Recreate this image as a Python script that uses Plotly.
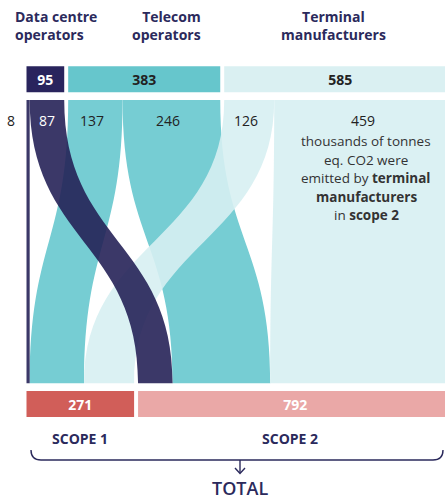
import plotly.graph_objects as go

# ---------------- data ----------------
actor_labels = ["Data centre<br>operators", "Telecom<br>operators", "Terminal<br>manufacturers"]
actor_totals = [95, 383, 585]
scope_labels = ["SCOPE 1", "SCOPE 2"]
scope_totals = [271, 792]
scope1_values = [8, 137, 126]     # per actor, scope 1
scope2_values = [87, 246, 459]    # per actor, scope 2
total_label = "TOTAL"

# ---------------- styles ----------------
NAVY = "#2b2a5c"
actor_bar_colors = ["#29245d", "#66c6cc", "#daf0f2"]
actor_text_colors = ["#ffffff", "#222222", "#222222"]
flow_colors = ["rgba(35,31,85,0.89)", "rgb(118,205,211)", "rgba(215,239,242,0.9)"]
flow_text_colors = ["#ffffff", "#222222", "#222222"]
scope_bar_colors = ["#d15e59", "#eaa8a7"]
FONT = "Open Sans"

W, H = 445, 500
K = 0.397        # px per unit (layout scale)
LEFT = 26.5      # px where value 0 sits
GAP = 10         # units between blocks


def X(px):
    return (px - LEFT) / K


X0, X1 = X(0), X(W)

Y_TOP_BAR = 79.3
Y_BOT_BAR = 404
BAR_W = 26
Y_FLOW_TOP = 100
Y_FLOW_BOT = 383.3
YM = (Y_FLOW_TOP + Y_FLOW_BOT) / 2
LABEL_SHIFT = -3.5 / K   # flow labels sit slightly left of segment centre

# block starts
top_start = []
s = 0
for v in actor_totals:
    top_start.append(s)
    s += v + GAP
bot_start = []
s = 0
for v in scope_totals:
    bot_start.append(s)
    s += v + GAP

scope_values = [scope1_values, scope2_values]

fig = go.Figure()

fig.add_trace(go.Bar(
    orientation="h", y=[Y_TOP_BAR] * 3, x=actor_totals, base=top_start, width=BAR_W,
    marker=dict(color=actor_bar_colors, line=dict(width=0)),
    text=[str(v) for v in actor_totals], textposition="inside", insidetextanchor="middle",
    textangle=0, constraintext="none",
    textfont=dict(family=FONT, size=14, color=actor_text_colors, weight=700),
    hoverinfo="skip", showlegend=False,
))
fig.add_trace(go.Bar(
    orientation="h", y=[Y_BOT_BAR] * 2, x=scope_totals, base=bot_start, width=BAR_W,
    marker=dict(color=scope_bar_colors, line=dict(width=0)),
    text=[str(v) for v in scope_totals], textposition="inside", insidetextanchor="middle",
    textangle=0, constraintext="none",
    textfont=dict(family=FONT, size=14, color="#ffffff", weight=700),
    hoverinfo="skip", showlegend=False,
))

shapes = []
annotations = []

# flows
flows = {}
for j in range(2):
    acc = bot_start[j]
    for i in range(3):
        v = scope_values[j][i]
        a0 = top_start[i] + (0 if j == 0 else scope1_values[i])
        b0 = acc
        flows[(i, j)] = (a0, a0 + v, b0, b0 + v)
        acc += v

for i in [1, 2, 0]:
    for j in range(2):
        a0, a1, b0, b1 = flows[(i, j)]
        path = (f"M {a0},{Y_FLOW_TOP} C {a0},{YM} {b0},{YM} {b0},{Y_FLOW_BOT} "
                f"L {b1},{Y_FLOW_BOT} C {b1},{YM} {a1},{YM} {a1},{Y_FLOW_TOP} Z")
        shapes.append(dict(type="path", path=path, xref="x", yref="y",
                           fillcolor=flow_colors[i], line=dict(width=0), layer="above"))

# flow labels
for i in range(3):
    for j in range(2):
        a0, a1, b0, b1 = flows[(i, j)]
        v = scope_values[j][i]
        if i == 0 and j == 0:
            annotations.append(dict(x=a0 - 24, y=120, text=str(v), xanchor="right",
                                    showarrow=False, font=dict(family=FONT, size=14, color="#222222")))
            continue
        if i == 0:
            cx = (a0 + a1) / 2
        elif i == 2 and j == 1:
            cx = (a0 + min(a1, X1)) / 2 + 3.5 / K
        else:
            cx = (a0 + a1) / 2 + LABEL_SHIFT
        annotations.append(dict(x=cx, y=120, text=str(v), showarrow=False,
                                font=dict(family=FONT, size=14, color=flow_text_colors[i])))
        if i == 2 and j == 1:
            desc = ["thousands of tonnes", "eq. CO2 were", "emitted by <b>terminal</b>",
                    "<b>manufacturers</b>", "in <b>scope 2</b>"]
            for k, line in enumerate(desc):
                annotations.append(dict(x=cx + 3 / K, y=141 + k * 18.5, text=line, showarrow=False,
                                        font=dict(family=FONT, size=13.5, color="#333333")))

# actor titles
title_pos = [(X(13), "left"), (X(203), "right"), (X(333), "center")]
for (tx, al), lab in zip(title_pos, actor_labels):
    annotations.append(dict(x=tx, y=25, text=f"<b>{lab}</b>", xanchor=al, align=al,
                            showarrow=False, font=dict(family=FONT, size=14, color=NAVY)))

# scope labels
scope_x = [(bot_start[0] + scope_totals[0] / 2), (bot_start[1] + min(bot_start[1] + scope_totals[1], X1)) / 2 - 5]
for sx, lab in zip(scope_x, scope_labels):
    annotations.append(dict(x=sx, y=438, text=f"<b>{lab}</b>", showarrow=False,
                            font=dict(family=FONT, size=14, color=NAVY)))

# brace + arrow
bl, br, by0, by1 = X(31), X(443), 450, 460
cxm = X(240)
shapes.append(dict(type="path", xref="x", yref="y",
                   path=(f"M {bl},{by0} Q {bl},{by1} {X(41)},{by1} L {X(433)},{by1} "
                         f"Q {br},{by1} {br},{by0}"),
                   line=dict(color=NAVY, width=1.4)))
shapes.append(dict(type="line", xref="x", yref="y", x0=cxm, x1=cxm, y0=by1, y1=473,
                   line=dict(color=NAVY, width=1.4)))
shapes.append(dict(type="path", xref="x", yref="y",
                   path=f"M {X(235)},{468} L {cxm},{473.5} L {X(245)},{468}",
                   line=dict(color=NAVY, width=1.4)))
annotations.append(dict(x=cxm, y=488, text=total_label, showarrow=False,
                        font=dict(family=FONT, size=18, color=NAVY, weight=600)))

fig.update_layout(
    width=W, height=H, margin=dict(l=0, r=0, t=0, b=0),
    paper_bgcolor="white", plot_bgcolor="white",
    barmode="overlay", showlegend=False,
    xaxis=dict(range=[X0, X1], visible=False, fixedrange=True),
    yaxis=dict(range=[H, 0], visible=False, fixedrange=True),
    shapes=shapes, annotations=annotations,
)

fig.write_html("out.html", config={"displayModeBar": False},
               post_script="document.body.style.margin='0';document.body.style.overflow='hidden';")
